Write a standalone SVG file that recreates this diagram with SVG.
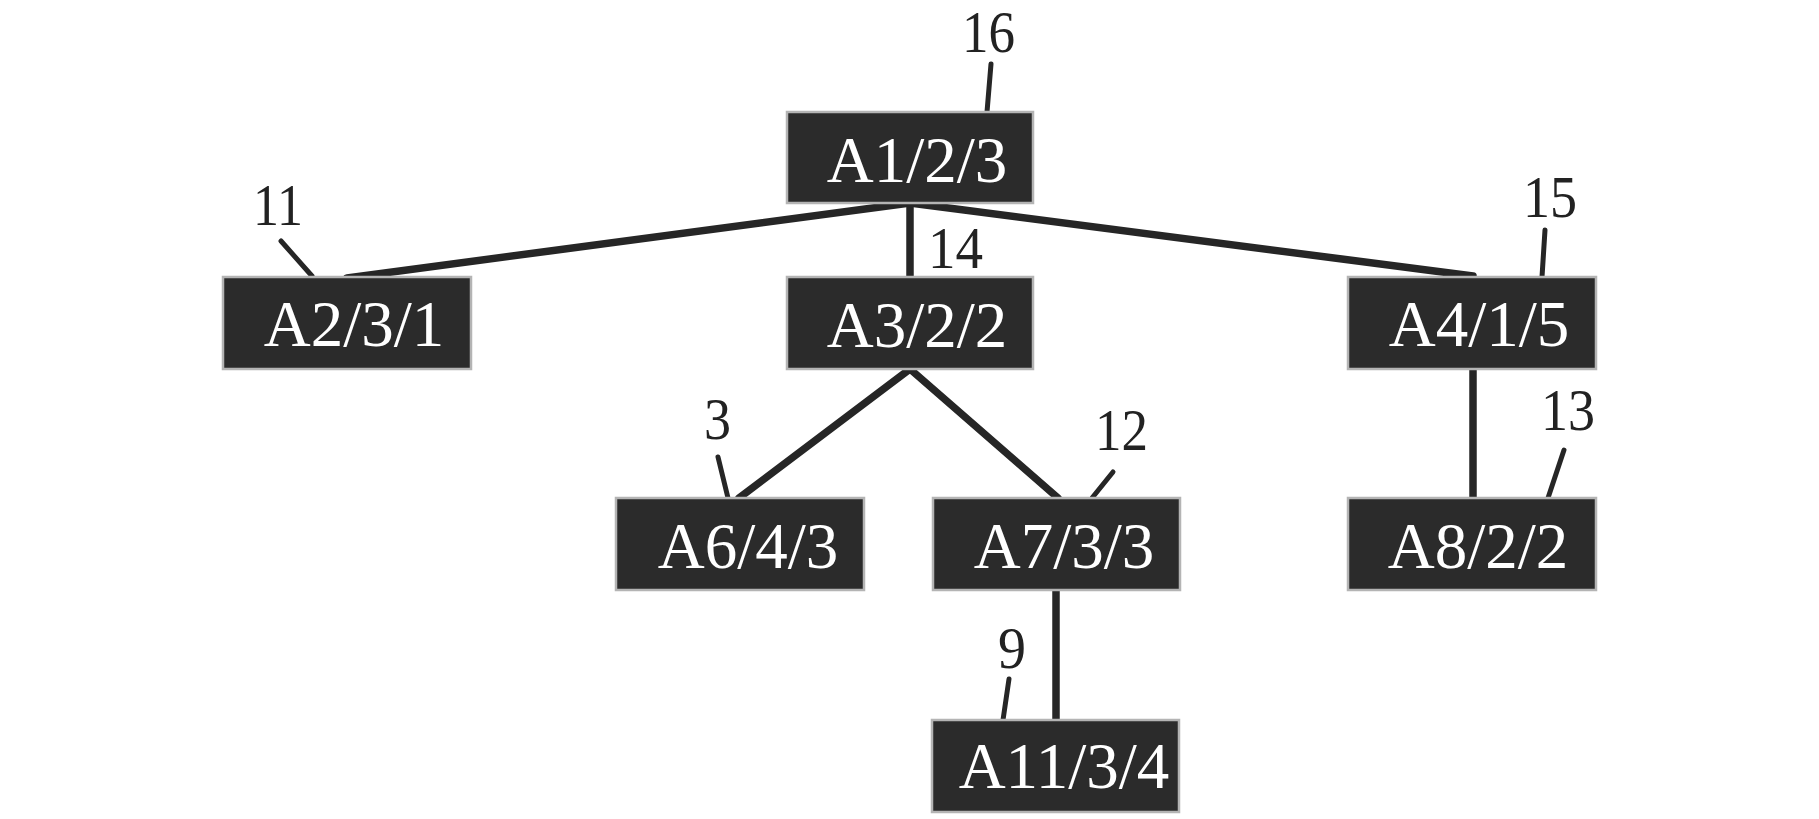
<svg xmlns="http://www.w3.org/2000/svg" width="1819" height="819" viewBox="0 0 1819 819">
<style>
.box{fill:#2b2b2b;stroke:#b4b4b4;stroke-width:2.5}
.nt{font-family:"Liberation Serif","Times New Roman",serif;font-size:65px;fill:#ffffff;text-anchor:middle}
.num{font-family:"Liberation Serif","Times New Roman",serif;font-size:59px;fill:#222222}
.conn{stroke:#262626;stroke-width:7.5;stroke-linecap:round;fill:none}
.lead{stroke:#262626;stroke-width:5;stroke-linecap:round;fill:none}
</style>
<rect width="1819" height="819" fill="#ffffff"/>
<g id="connectors">
<line class="conn" x1="910" y1="203" x2="347" y2="278"/>
<line class="conn" x1="910" y1="203" x2="910" y2="277"/>
<line class="conn" x1="910" y1="203" x2="1473" y2="276"/>
<line class="conn" x1="910" y1="369" x2="739" y2="498"/>
<line class="conn" x1="910" y1="369" x2="1058" y2="498"/>
<line class="conn" x1="1473" y1="369" x2="1473" y2="498"/>
<line class="conn" x1="1056" y1="590" x2="1056" y2="720"/>
</g>
<g id="leaders">
<line class="lead" x1="991" y1="64" x2="987" y2="112"/>
<line class="lead" x1="281" y1="241" x2="312" y2="276"/>
<line class="lead" x1="1545" y1="230" x2="1542" y2="277"/>
<line class="lead" x1="718" y1="457" x2="728" y2="498"/>
<line class="lead" x1="1113" y1="472" x2="1092" y2="498"/>
<line class="lead" x1="1564" y1="450" x2="1548" y2="498"/>
<line class="lead" x1="1009" y1="679" x2="1003" y2="720"/>
</g>
<g id="n-A1"><rect class="box" x="787" y="112" width="246" height="91"/><text class="nt" x="917" y="182">A1/2/3</text></g>
<g id="n-A2"><rect class="box" x="223" y="277" width="248" height="92"/><text class="nt" x="354" y="346">A2/3/1</text></g>
<g id="n-A3"><rect class="box" x="787" y="277" width="246" height="92"/><text class="nt" x="917" y="347">A3/2/2</text></g>
<g id="n-A4"><rect class="box" x="1348" y="277" width="248" height="92"/><text class="nt" x="1479" y="346">A4/1/5</text></g>
<g id="n-A6"><rect class="box" x="616" y="498" width="248" height="92"/><text class="nt" x="748" y="568">A6/4/3</text></g>
<g id="n-A7"><rect class="box" x="933" y="498" width="247" height="92"/><text class="nt" x="1064" y="568">A7/3/3</text></g>
<g id="n-A8"><rect class="box" x="1348" y="498" width="248" height="92"/><text class="nt" x="1478" y="568">A8/2/2</text></g>
<g id="n-A11"><rect class="box" x="932" y="720" width="247" height="92"/><text class="nt" x="1064" y="788">A11/3/4</text></g>
<g id="labels">
<text class="num" x="962" y="52" font-size="58" textLength="53" lengthAdjust="spacingAndGlyphs">16</text>
<text class="num" x="253" y="225" textLength="50" lengthAdjust="spacingAndGlyphs">11</text>
<text class="num" x="928" y="268" textLength="55" lengthAdjust="spacingAndGlyphs">14</text>
<text class="num" x="1523" y="217" textLength="54" lengthAdjust="spacingAndGlyphs">15</text>
<text class="num" x="704" y="439" textLength="27" lengthAdjust="spacingAndGlyphs">3</text>
<text class="num" x="1095" y="450" textLength="53" lengthAdjust="spacingAndGlyphs">12</text>
<text class="num" x="1541" y="430" textLength="54" lengthAdjust="spacingAndGlyphs">13</text>
<text class="num" x="998" y="668" textLength="28" lengthAdjust="spacingAndGlyphs">9</text>
</g>
</svg>
